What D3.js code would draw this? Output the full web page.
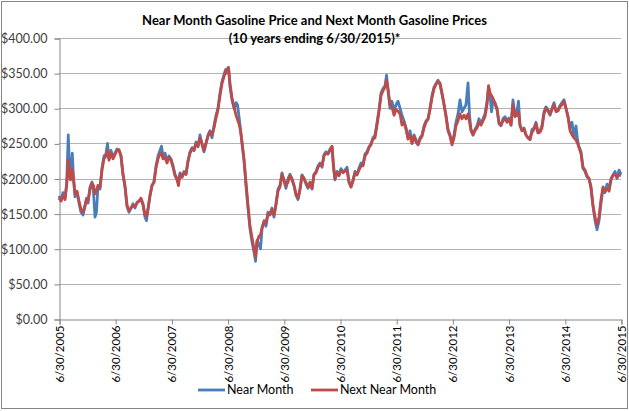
<!DOCTYPE html>
<html>
<head>
<meta charset="utf-8">
<script src="https://cdn.jsdelivr.net/npm/d3@7/dist/d3.min.js"></script>
<style>
  html, body { margin: 0; padding: 0; background: #fff; }
  svg { display: block; }
  text { font-family: Lato, "Open Sans", "Liberation Sans", sans-serif; }
</style>
</head>
<body>
<svg id="chart" width="629" height="411"></svg>
<script>
// ---- Data ----
const titleLines = ["Near Month Gasoline Price and Next Month Gasoline Prices", "(10 years ending 6/30/2015)*"];
const seriesNames = ["Near Month", "Next Near Month"];
const yTicks = [0, 50, 100, 150, 200, 250, 300, 350, 400];
const xTickYears = [2005.5, 2006.5, 2007.5, 2008.5, 2009.5, 2010.5, 2011.5, 2012.5, 2013.5, 2014.5, 2015.5];
const xTickLabels = ["6/30/2005","6/30/2006","6/30/2007","6/30/2008","6/30/2009","6/30/2010","6/30/2011","6/30/2012","6/30/2013","6/30/2014","6/30/2015"];

// time as decimal year
const years = [
 2005.500,2005.536,2005.571,2005.607,2005.637,2005.665,2005.687,2005.705,2005.737,2005.758,
 2005.785,2005.820,2005.856,2005.891,2005.927,2005.963,2005.989,2006.016,2006.052,2006.087,
 2006.114,2006.141,2006.167,2006.194,2006.230,2006.265,2006.301,2006.336,2006.363,2006.390,
 2006.425,2006.461,2006.496,2006.532,2006.568,2006.603,2006.639,2006.674,2006.710,2006.746,
 2006.781,2006.817,2006.852,2006.888,2006.924,2006.959,2006.995,2007.030,2007.057,2007.084,
 2007.119,2007.155,2007.190,2007.226,2007.262,2007.297,2007.324,2007.351,2007.386,2007.422,
 2007.457,2007.493,2007.529,2007.564,2007.600,2007.626,2007.653,2007.689,2007.724,2007.760,
 2007.795,2007.831,2007.867,2007.902,2007.938,2007.973,2008.009,2008.045,2008.080,
 2008.116,2008.151,2008.187,2008.223,2008.258,2008.294,2008.329,2008.365,2008.400,2008.436,
 2008.463,2008.489,2008.516,2008.543,2008.578,2008.614,2008.650,2008.676,2008.703,2008.730,
 2008.756,2008.792,2008.827,2008.863,2008.899,2008.934,2008.970,2008.997,2009.023,2009.059,
 2009.086,2009.112,2009.148,2009.183,2009.219,2009.255,2009.290,2009.326,2009.361,2009.397,
 2009.432,2009.468,2009.504,2009.539,2009.575,2009.610,2009.646,2009.682,2009.717,2009.753,
 2009.788,2009.824,2009.860,2009.895,2009.931,2009.966,2010.002,2010.037,2010.073,2010.109,
 2010.144,2010.180,2010.215,2010.251,2010.287,2010.322,2010.358,2010.385,2010.411,2010.447,
 2010.482,2010.518,2010.554,2010.589,
 2010.625,2010.660,2010.696,2010.731,2010.767,2010.803,2010.838,2010.874,2010.909,2010.945,
 2010.981,2011.016,2011.052,2011.087,2011.123,2011.159,2011.194,2011.230,2011.265,2011.301,
 2011.328,2011.354,2011.390,2011.425,2011.461,2011.497,2011.532,2011.568,2011.603,2011.639,
 2011.675,2011.710,2011.746,2011.781,2011.817,2011.852,2011.888,2011.924,2011.959,2011.995,
 2012.030,2012.066,2012.101,2012.137,2012.173,2012.208,2012.244,2012.279,2012.315,2012.351,
 2012.386,2012.422,2012.458,2012.493,2012.529,2012.564,2012.600,2012.635,2012.671,2012.707,
 2012.742,2012.778,2012.805,2012.831,2012.867,2012.902,2012.938,2012.973,2013.009,2013.045,
 2013.080,2013.116,2013.143,2013.169,2013.196,2013.223,2013.258,2013.294,2013.329,2013.365,
 2013.400,2013.436,2013.472,2013.507,2013.543,2013.578,2013.614,2013.650,2013.676,2013.703,
 2013.739,2013.774,2013.810,2013.845,2013.881,2013.917,2013.952,2013.988,2014.023,2014.059,
 2014.094,2014.130,2014.165,2014.201,2014.237,2014.272,2014.308,2014.344,2014.379,2014.415,
 2014.450,2014.486,2014.521,2014.557,2014.593,2014.628,2014.664,2014.699,2014.726,2014.753,
 2014.788,2014.824,2014.860,2014.895,2014.931,2014.967,2015.002,2015.038,2015.073,2015.109,
 2015.144,2015.180,2015.215,2015.251,2015.287,2015.322,2015.358,2015.394,2015.429,2015.465,
 2015.500
];

// Near Month price
const nearMonth = [
 175,168,180,172,194,262,215,200,236,200,
 174,180,165,152,148,160,172,165,188,195,
 180,145,152,190,185,215,232,235,250,228,
 240,230,236,242,240,232,205,188,160,152,
 158,164,158,166,168,170,162,145,140,155,
 175,190,196,218,232,240,246,232,236,225,
 232,228,218,206,200,196,208,202,210,206,
 225,238,244,240,252,245,262,248,238,
 250,262,268,258,275,290,300,322,338,348,
 355,350,358,330,312,300,308,305,288,270,
 250,225,190,158,128,110,95,82,112,105,
 100,128,140,132,152,150,158,145,165,185,
 190,208,196,186,200,206,200,190,176,170,
 185,205,200,192,186,195,185,206,210,218,
 222,216,234,238,235,242,245,215,198,210,
 205,214,208,212,
 216,195,188,198,210,205,215,222,220,235,
 238,245,250,258,262,280,298,322,328,332,
 347,325,300,310,295,305,310,300,290,282,
 270,258,268,250,262,255,248,258,262,275,
 282,285,300,318,330,335,340,334,320,305,
 290,270,262,250,262,280,292,312,295,300,
 305,336,290,270,262,270,275,285,278,285,
 292,310,330,318,295,312,308,300,278,275,
 285,288,282,286,276,312,290,295,310,275,
 268,272,262,258,255,270,272,280,265,268,
 275,295,302,298,290,300,308,295,298,304,
 308,312,300,288,272,280,258,275,255,245,
 238,214,210,202,200,185,160,140,127,140,
 165,186,180,192,186,200,205,210,200,212,
 206
];

// Next Near Month price
const nextMonth = [
 172,168,176,170,190,227,205,198,213,200,
 178,182,168,156,152,162,170,168,185,193,
 190,178,182,190,188,212,228,232,240,226,
 236,228,234,240,241,232,206,190,162,154,
 158,162,160,165,168,172,164,148,146,158,
 176,190,194,215,228,235,236,228,230,222,
 230,226,216,204,198,190,206,202,208,206,
 224,236,242,240,250,246,258,250,240,
 250,260,266,262,272,286,298,318,335,345,
 352,356,358,335,315,302,290,284,278,268,
 252,228,195,162,132,116,100,88,110,118,
 120,130,138,136,150,148,156,148,162,182,
 188,206,198,190,195,204,198,190,178,172,
 184,204,200,194,188,194,186,205,208,216,
 220,218,232,236,235,240,246,218,200,208,
 204,212,210,210,
 212,195,188,196,208,206,212,218,218,232,
 236,244,248,256,258,276,295,318,325,330,
 340,328,305,302,290,298,296,292,276,280,
 272,256,262,250,260,252,248,256,260,272,
 280,284,298,315,328,334,338,336,322,306,
 288,268,260,248,258,275,282,292,285,290,
 285,292,280,268,262,268,272,280,276,282,
 288,305,332,322,318,314,306,298,280,276,
 282,285,280,284,276,305,288,290,295,276,
 268,270,262,258,256,266,270,278,265,266,
 272,292,300,296,292,298,305,296,296,302,
 305,310,300,288,268,262,258,255,250,244,
 236,216,212,204,200,188,162,145,134,145,
 170,188,182,185,182,198,204,206,202,205,
 204
];

// ---- Chart ----
const W = 629, H = 411;
const margin = { left: 59, right: 8, top: 38, bottom: 92 };
const svg = d3.select("#chart");

// outer border
svg.append("rect")
  .attr("x", 1.5).attr("y", 1.5)
  .attr("width", W - 3).attr("height", H - 4)
  .attr("fill", "#fff").attr("stroke", "#868686").attr("stroke-width", 1);

const x = d3.scaleLinear().domain([xTickYears[0], xTickYears[xTickYears.length - 1]])
  .range([margin.left, W - margin.right]);
const y = d3.scaleLinear().domain([0, 400]).range([H - margin.bottom, margin.top]);

// gridlines
svg.append("g").selectAll("line").data(yTicks.filter(d => d > 0)).join("line")
  .attr("x1", x.range()[0]).attr("x2", x.range()[1])
  .attr("y1", d => Math.round(y(d)) + 0.5).attr("y2", d => Math.round(y(d)) + 0.5)
  .attr("stroke", "#b3b3b3").attr("stroke-width", 1);

// y axis
const yAxis = d3.axisLeft(y).tickValues(yTicks).tickSize(5).tickFormat(d => "$" + d3.format(".2f")(d));
const gy = svg.append("g").attr("transform", `translate(${margin.left + 0.5},0.5)`).call(yAxis);
gy.select(".domain").attr("stroke", "#868686");
gy.selectAll(".tick line").attr("stroke", "#868686");
gy.selectAll(".tick text").attr("font-size", 12.5).attr("fill", "#404040")
  .attr("font-family", "Lato, 'Open Sans', sans-serif").attr("x", -12);

// x axis
const xAxis = d3.axisBottom(x).tickValues(xTickYears).tickSize(5)
  .tickFormat((d, i) => xTickLabels[i]);
const gx = svg.append("g").attr("transform", `translate(0.5,${Math.round(y(0)) + 0.5})`).call(xAxis);
gx.select(".domain").attr("stroke", "#868686");
gx.selectAll(".tick line").attr("stroke", "#868686");
gx.selectAll(".tick text")
  .attr("font-size", 11.5).attr("fill", "#000")
  .attr("font-family", "'Liberation Sans', Arial, sans-serif")
  .attr("text-anchor", "end").attr("dy", "0.35em")
  .attr("transform", "rotate(-90)")
  .attr("x", -6).attr("y", 0);

// lines
const colors = ["#4a7ebb", "#be4b48"];
const line = d3.line().x((d) => x(d[0])).y(d => y(d[1]));
const seriesData = [
  years.map((t, i) => [t, nearMonth[i]]),
  years.map((t, i) => [t, nextMonth[i]])
];
svg.append("g").selectAll("path").data(seriesData).join("path")
  .attr("d", line)
  .attr("fill", "none")
  .attr("stroke", (d, i) => colors[i])
  .attr("stroke-width", 2.8)
  .attr("stroke-linejoin", "round");

// title
svg.append("g").selectAll("text").data(titleLines).join("text")
  .attr("x", W / 2).attr("y", (d, i) => 25 + i * 17.5)
  .attr("text-anchor", "middle")
  .attr("font-size", 13).attr("font-weight", "bold").attr("fill", "#000")
  .text(d => d);

// legend
const legendItems = [
  { name: seriesNames[0], color: colors[0], x0: 198 },
  { name: seriesNames[1], color: colors[1], x0: 311 }
];
const lg = svg.append("g");
legendItems.forEach(it => {
  lg.append("line").attr("x1", it.x0).attr("x2", it.x0 + 27)
    .attr("y1", 390).attr("y2", 390)
    .attr("stroke", it.color).attr("stroke-width", 2.8);
  lg.append("text").attr("x", it.x0 + 29).attr("y", 390).attr("dy", "0.35em")
    .attr("font-size", 12.5).attr("fill", "#000").text(it.name);
});
</script>
</body>
</html>
